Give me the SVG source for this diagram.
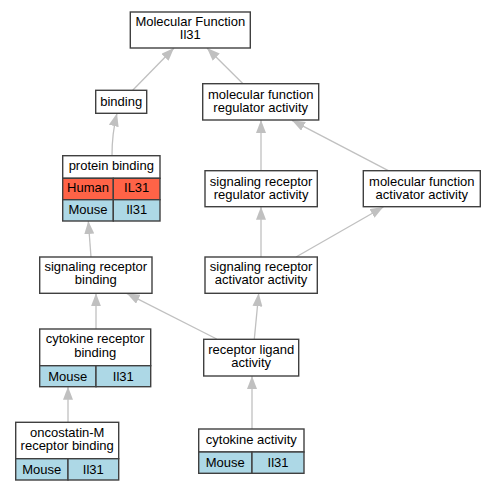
<svg xmlns="http://www.w3.org/2000/svg" width="495" height="491" viewBox="0 0 495 491">
<style>
.b{fill:#fff;stroke:#404040;stroke-width:1.4}
.h{fill:#ff6347;stroke:#404040;stroke-width:1.4}
.m{fill:#add8e6;stroke:#404040;stroke-width:1.4}
text{font-family:"Liberation Sans",Arial,sans-serif;font-size:13px;fill:#000;text-anchor:middle}
.e{fill:none;stroke:#c0c0c0;stroke-width:1.3;marker-end:url(#a)}
</style>
<defs>
<marker id="a" viewBox="0 0 13 10" refX="13" refY="5" markerWidth="13" markerHeight="10" markerUnits="userSpaceOnUse" orient="auto">
<path d="M0,0L13,5L0,10z" fill="#c0c0c0"/>
</marker>
</defs>
<rect width="495" height="491" fill="#fff"/>
<g id="edges">
<path class="e" d="M132.7,90.3L174,48"/>
<path class="e" d="M243,83.7L207,48"/>
<path class="e" d="M112,155.7C112,140 114,125 117,113.3"/>
<path class="e" d="M261,170.7L261,120"/>
<path class="e" d="M388.3,170.7L292,120.3"/>
<path class="e" d="M91,257L88.3,221"/>
<path class="e" d="M261,257L261,206.7"/>
<path class="e" d="M296,257L383.3,207"/>
<path class="e" d="M96,329L96,293.3"/>
<path class="e" d="M216.7,339L126.7,293.3"/>
<path class="e" d="M254.3,339.3L258.7,293.3"/>
<path class="e" d="M68,422.3L68,386.7"/>
<path class="e" d="M252,429L252,376"/>
</g>
<g id="mf">
<rect class="b" x="130.3" y="12" width="120" height="36"/>
<text x="190.3" y="26.3">Molecular Function</text>
<text x="190.3" y="39.3">Il31</text>
</g>
<g id="binding">
<rect class="b" x="95.7" y="90.3" width="51" height="23"/>
<text x="121.2" y="105.5">binding</text>
</g>
<g id="mfra">
<rect class="b" x="202.7" y="83.7" width="116" height="36.3"/>
<text x="260.7" y="98.5">molecular function</text>
<text x="260.7" y="111.5">regulator activity</text>
</g>
<g id="pb">
<rect class="b" x="62.7" y="155.7" width="97.3" height="22.6"/>
<rect class="h" x="62.7" y="178.3" width="50.6" height="21.4"/>
<rect class="h" x="113.3" y="178.3" width="46.7" height="21.4"/>
<rect class="m" x="62.7" y="199.7" width="50.6" height="21.3"/>
<rect class="m" x="113.3" y="199.7" width="46.7" height="21.3"/>
<text x="111.3" y="170.2">protein binding</text>
<text x="88" y="192.3">Human</text>
<text x="136.7" y="192.3">IL31</text>
<text x="88" y="213.6">Mouse</text>
<text x="136.7" y="213.6">Il31</text>
</g>
<g id="srra">
<rect class="b" x="205" y="170.7" width="112.3" height="36"/>
<text x="261.1" y="185.6">signaling receptor</text>
<text x="261.1" y="198.6">regulator activity</text>
</g>
<g id="mfaa">
<rect class="b" x="363.3" y="170.7" width="117" height="36"/>
<text x="421.8" y="185.6">molecular function</text>
<text x="421.8" y="198.6">activator activity</text>
</g>
<g id="srb">
<rect class="b" x="39.7" y="257" width="112.3" height="36.3"/>
<text x="95.8" y="271.2">signaling receptor</text>
<text x="95.8" y="284.4">binding</text>
</g>
<g id="sraa">
<rect class="b" x="205" y="257" width="112.3" height="36.3"/>
<text x="261.1" y="271.2">signaling receptor</text>
<text x="261.1" y="284.4">activator activity</text>
</g>
<g id="crb">
<rect class="b" x="39.7" y="329" width="111" height="36.7"/>
<rect class="m" x="39.7" y="365.7" width="56.3" height="21"/>
<rect class="m" x="96" y="365.7" width="54.7" height="21"/>
<text x="95.2" y="343.4">cytokine receptor</text>
<text x="95.2" y="356.6">binding</text>
<text x="67.8" y="380.7">Mouse</text>
<text x="123.3" y="380.7">Il31</text>
</g>
<g id="rla">
<rect class="b" x="203.7" y="339.3" width="95" height="36.7"/>
<text x="251.2" y="354.3">receptor ligand</text>
<text x="251.2" y="367.3">activity</text>
</g>
<g id="omrb">
<rect class="b" x="15.7" y="422.3" width="103" height="36.4"/>
<rect class="m" x="15.7" y="458.7" width="52.3" height="21.3"/>
<rect class="m" x="68" y="458.7" width="50.7" height="21.3"/>
<text x="67.2" y="436.8">oncostatin-M</text>
<text x="67.2" y="449.8">receptor binding</text>
<text x="41.8" y="473.8">Mouse</text>
<text x="93.3" y="473.8">Il31</text>
</g>
<g id="ca">
<rect class="b" x="198.7" y="429" width="105.3" height="23"/>
<rect class="m" x="198.7" y="452" width="53.3" height="21.3"/>
<rect class="m" x="252" y="452" width="52" height="21.3"/>
<text x="251.3" y="443.6">cytokine activity</text>
<text x="225.3" y="467">Mouse</text>
<text x="278" y="467">Il31</text>
</g>
</svg>
